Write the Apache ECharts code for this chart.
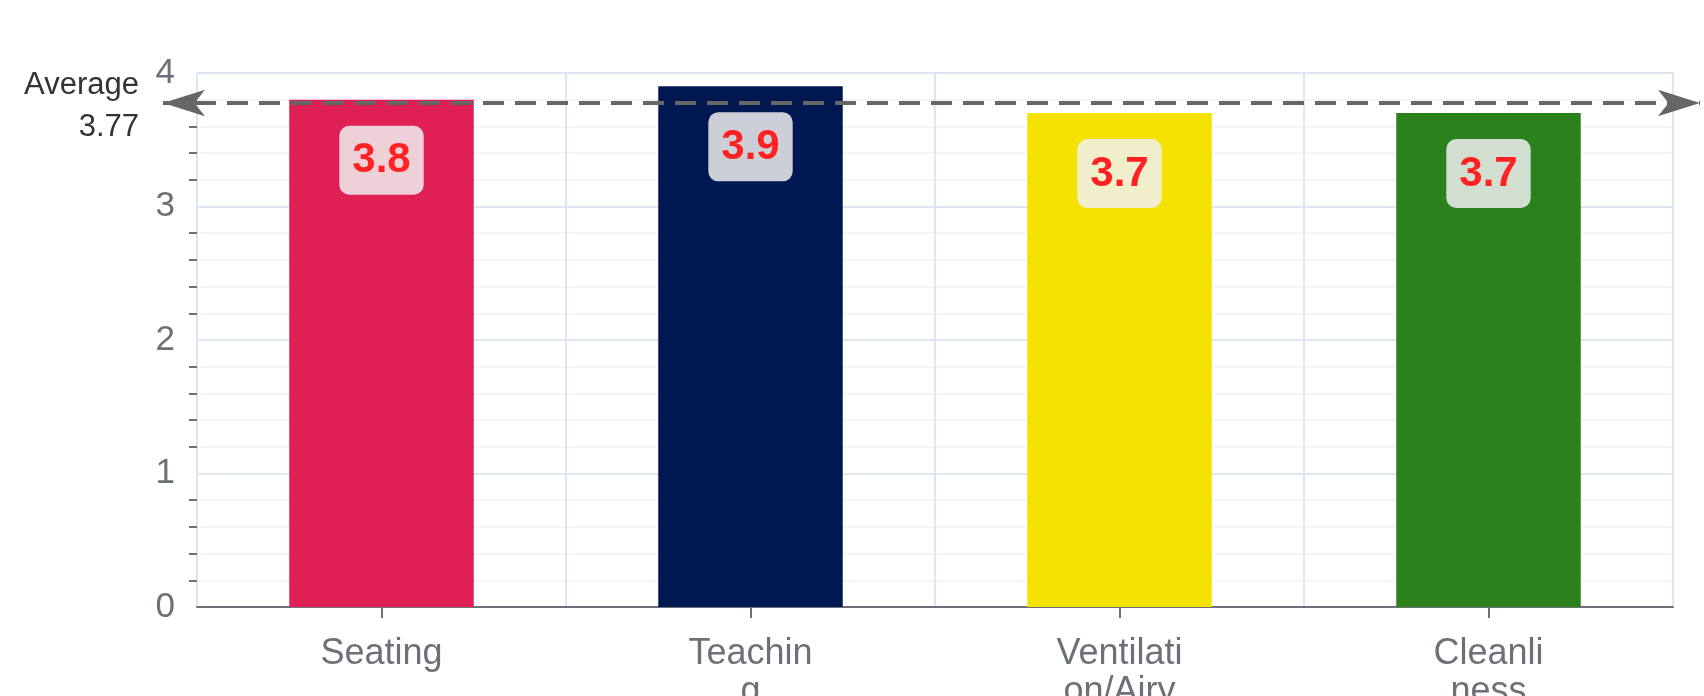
<!DOCTYPE html>
<html>
<head>
<meta charset="utf-8">
<script src="https://cdn.jsdelivr.net/npm/echarts@6/dist/echarts.min.js"></script>
<style>
html,body{margin:0;padding:0;background:#fff;}
#chart{width:1704px;height:696px;}
</style>
</head>
<body>
<div id="chart"></div>
<script>
const categories = ['Seating', 'Teaching', 'Ventilation/Airy', 'Cleanliness'];
const values = [3.8, 3.9, 3.7, 3.7];
const barColors = ['#e01f54', '#001852', '#f5e200', '#2b821d'];
const yTicks = [0, 1, 2, 3, 4];

const average = values.reduce((a, b) => a + b, 0) / values.length;
const averageText = (Math.floor(average * 100 + 1e-9) / 100).toFixed(2);

const FONT = '"Liberation Sans", Arial, Helvetica, sans-serif';
const chart = echarts.init(document.getElementById('chart'), null, {renderer: 'canvas'});

chart.setOption({
  animation: false,
  textStyle: {fontFamily: FONT},
  grid: {left: 197, right: 31, top: 73, bottom: 89, containLabel: false, outerBoundsMode: 'none'},
  xAxis: {
    type: 'category',
    data: categories,
    axisLine: {show: true, lineStyle: {color: '#6e7079', width: 2}},
    axisTick: {show: true, alignWithLabel: true, length: 11, lineStyle: {color: '#6e7079', width: 2}},
    axisLabel: {
      color: '#6e7079', fontSize: 36, fontFamily: FONT, margin: 28,
      lineHeight: 38, width: 129, overflow: 'break', interval: 0
    },
    splitLine: {show: true, lineStyle: {color: '#e0e6f1', width: 2}}
  },
  yAxis: {
    type: 'value',
    min: yTicks[0],
    max: yTicks[yTicks.length - 1],
    interval: 1,
    axisLine: {show: false},
    axisTick: {show: false},
    minorTick: {show: true, splitNumber: 5, length: 8, lineStyle: {color: '#6e7079', width: 2}},
    axisLabel: {color: '#6e7079', fontSize: 35, fontFamily: FONT, margin: 22},
    splitLine: {show: true, lineStyle: {color: '#e0e6f1', width: 2}},
    minorSplitLine: {show: true, lineStyle: {color: '#f3f5fa', width: 2}}
  },
  series: [{
    type: 'bar',
    barWidth: '50%',
    data: values.map((v, i) => ({value: v, itemStyle: {color: barColors[i]}})),
    label: {
      show: true,
      position: 'insideTop',
      distance: 26,
      color: '#ff2222',
      fontSize: 42,
      fontWeight: 'bold',
      fontFamily: FONT,
      backgroundColor: 'rgba(240,240,240,0.85)',
      borderRadius: 10,
      padding: [14, 13, 13, 13]
    },
    markLine: {
      silent: true,
      symbol: ['arrow', 'arrow'],
      symbolSize: [20, 42],
      lineStyle: {color: '#666666', width: 4, type: [21, 11]},
      label: {
        show: true,
        position: 'start',
        distance: 24,
        formatter: '{t|Average}\n{t|' + averageText + '}',
        rich: {t: {color: '#333333', fontSize: 31, lineHeight: 42, fontFamily: FONT, align: 'right'}},
        color: '#333333',
        fontSize: 31,
        lineHeight: 42,
        align: 'right',
        padding: [7, 0, 0, 0],
        fontFamily: FONT
      },
      data: [[{yAxis: average, x: 163}, {yAxis: average, x: 1700}]]
    }
  }]
});
</script>
</body>
</html>
